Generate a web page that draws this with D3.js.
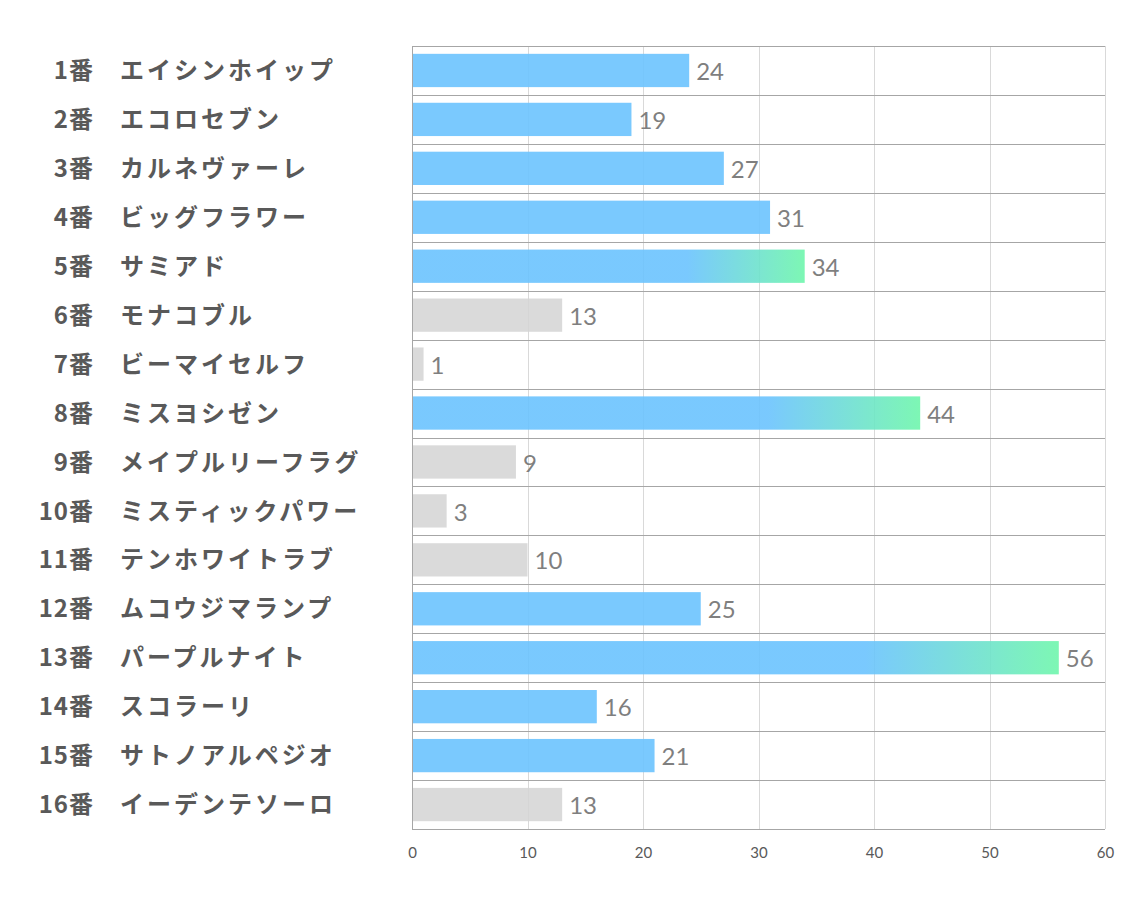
<!DOCTYPE html>
<html>
<head>
<meta charset="utf-8">
<script src="https://cdn.jsdelivr.net/npm/d3@7"></script>
<style>
  body { margin: 0; background: #fff; }
</style>
</head>
<body>
<div id="chart"></div>
<script>
// data
const numbers = ["1番","2番","3番","4番","5番","6番","7番","8番","9番","10番","11番","12番","13番","14番","15番","16番"];
const names = ["エイシンホイップ","エコロセブン","カルネヴァーレ","ビッグフラワー","サミアド","モナコブル","ビーマイセルフ","ミスヨシゼン","メイプルリーフラグ","ミスティックパワー","テンホワイトラブ","ムコウジマランプ","パープルナイト","スコラーリ","サトノアルペジオ","イーデンテソーロ"];
const values = [24,19,27,31,34,13,1,44,9,3,10,25,56,16,21,13];
// kind: b = blue, g = blue->green gradient, n = gray
const kinds = ["b","b","b","b","g","n","n","g","n","n","n","b","g","b","b","n"];
const xTicks = [0,10,20,30,40,50,60];

const W = 1134, H = 907;
const pL = 412, pR = 1105, pT = 46, pB = 829;

const svg = d3.select("#chart").append("svg")
  .attr("width", W).attr("height", H);

const defs = svg.append("defs");
const grad = defs.append("linearGradient")
  .attr("id","bg").attr("x1","0").attr("x2","1").attr("y1","0").attr("y2","0");
grad.append("stop").attr("offset","0.7").attr("stop-color","#6bc3fe");
grad.append("stop").attr("offset","1").attr("stop-color","#6ff6ac");

const x = d3.scaleLinear().domain([0,60]).range([pL,pR]);
const y = d3.scaleBand().domain(d3.range(values.length)).range([pT,pB]).paddingInner(0.32).paddingOuter(0.16);
const rowY = d3.scaleBand().domain(d3.range(values.length)).range([pT,pB]);

// vertical grid
svg.append("g").selectAll("line").data(xTicks.slice(1)).enter().append("line")
  .attr("x1", d => Math.round(x(d))+0.5).attr("x2", d => Math.round(x(d))+0.5)
  .attr("y1", pT).attr("y2", pB)
  .attr("stroke","#d9d9d9").attr("stroke-width",1);

// horizontal separators
svg.append("g").selectAll("line").data(d3.range(values.length+1)).enter().append("line")
  .attr("x1", pL).attr("x2", pR)
  .attr("y1", d => Math.round(pT + d*rowY.step())+0.5)
  .attr("y2", d => Math.round(pT + d*rowY.step())+0.5)
  .attr("stroke","#a6a6a6").attr("stroke-width",1);

svg.append("line")
  .attr("x1", pL+0.5).attr("x2", pL+0.5).attr("y1", pT).attr("y2", pB)
  .attr("stroke","#a6a6a6");

// bars
const fills = { b: "#6bc3fe", g: "url(#bg)", n: "#d3d3d3" };
svg.append("g").selectAll("rect").data(values).enter().append("rect")
  .attr("x", x(0)+1)
  .attr("y", (d,i) => y(i))
  .attr("width", d => x(d)-x(0)-1)
  .attr("height", y.bandwidth())
  .attr("fill", (d,i) => fills[kinds[i]])
  .attr("fill-opacity", (d,i) => kinds[i]=="n" ? 0.85 : 0.9);

// value labels
svg.append("g").selectAll("text").data(values).enter().append("text")
  .attr("x", d => x(d)+7)
  .attr("y", (d,i) => y(i)+y.bandwidth()/2 + 1)
  .attr("dy","0.36em")
  .attr("font-family","Lato, 'Open Sans', sans-serif")
  .attr("font-size", 24)
  .attr("fill","#7f7f7f")
  .text(d => d);

// category labels
const lab = svg.append("g").attr("font-family","'Noto Sans CJK JP', sans-serif")
  .attr("font-weight","bold").attr("font-size",24).attr("fill","#595959");
lab.selectAll("text.num").data(numbers).enter().append("text")
  .attr("class","num")
  .attr("x", 94)
  .attr("y", (d,i) => rowY(i)+rowY.step()/2)
  .attr("dy","0.36em")
  .attr("text-anchor","end")
  .attr("letter-spacing", 1)
  .text(d => d);
lab.selectAll("text.name").data(names).enter().append("text")
  .attr("class","name")
  .attr("x", 120)
  .attr("y", (d,i) => rowY(i)+rowY.step()/2)
  .attr("dy","0.36em")
  .attr("letter-spacing", 3)
  .text(d => d);

// x axis
const ax = svg.append("g").attr("transform","translate(0," + pB + ")")
  .call(d3.axisBottom(x).tickValues(xTicks).tickSize(0).tickPadding(18));
ax.select(".domain").remove();
ax.selectAll("text").attr("font-family","Lato, 'Open Sans', sans-serif")
  .attr("font-size",15).attr("fill","#595959");
</script>
</body>
</html>
